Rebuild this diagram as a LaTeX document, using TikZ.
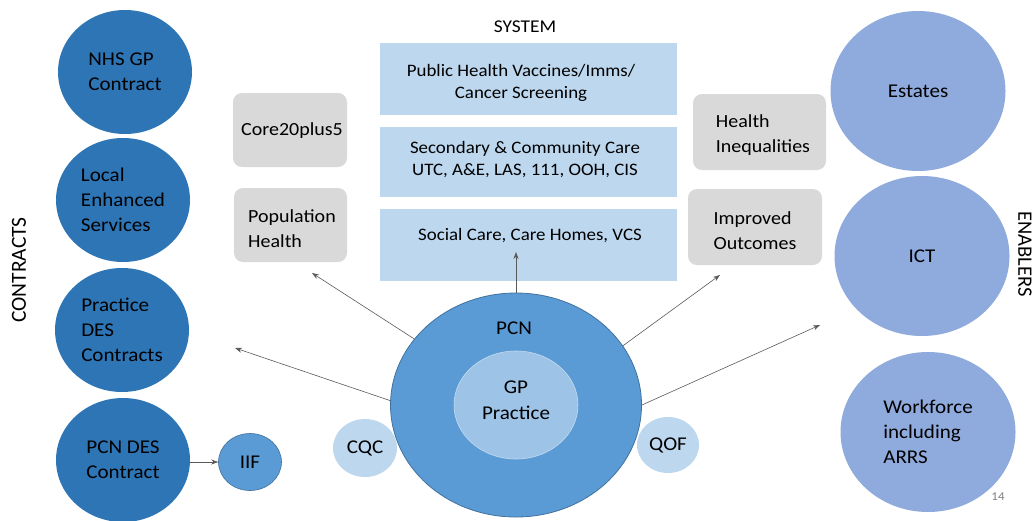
\documentclass[tikz,border=0pt]{standalone}
\usepackage{fontspec}
\setmainfont{Carlito}[FakeStretch=1.08]
\newfontfamily\rotfont{Carlito}
\usetikzlibrary{shapes.geometric,arrows.meta}
\definecolor{darkblue}{HTML}{2E75B6}
\definecolor{midblue}{HTML}{5B9BD5}
\definecolor{midborder}{HTML}{41719C}
\definecolor{paleblue}{HTML}{9DC3E6}
\definecolor{lightblue}{HTML}{BDD7EE}
\definecolor{enabler}{HTML}{8FAADC}
\definecolor{greybox}{HTML}{D9D9D9}
\definecolor{arrowgrey}{HTML}{595959}
\tikzset{
  contract/.style={ellipse, fill=darkblue, minimum width=134pt, minimum height=124pt, inner sep=0pt, align=left, font=\fontsize{19.5}{25}\selectfont},
  enab/.style={ellipse, fill=enabler, minimum width=175pt, minimum height=160pt, inner sep=0pt, align=left, font=\fontsize{19.5}{25}\selectfont},
  sysbox/.style={rectangle, fill=lightblue, minimum width=297pt, minimum height=72pt, inner sep=0pt},
  systext/.style={align=center, font=\fontsize{17.5}{22}\selectfont},
  greyb/.style={rectangle, rounded corners=9pt, fill=greybox, inner sep=0pt},
  greytext/.style={align=left, font=\fontsize{18.5}{25}\selectfont},
  small/.style={ellipse, fill=lightblue, minimum width=64pt, minimum height=58pt, inner sep=0pt, font=\fontsize{19.5}{24}\selectfont},
  conn/.style={draw=arrowgrey, line width=0.6pt, -{Stealth[length=7pt,width=5pt]}},
}
\begin{document}
\begin{tikzpicture}[x=1pt,y=-1pt]
\useasboundingbox (0,0) rectangle (1035,520);
% left contracts
\node[contract] (nhs) at (125,72) {NHS GP\\Contract};
\node[contract] (les) at (123,200) {Local\\Enhanced\\Services};
\node[contract] (pdes) at (122,330) {Practice\\DES\\Contracts};
\node[contract, align=center] (pcndes) at (123,460) {PCN DES\\Contract};
\node[ellipse, fill=midblue, draw=midborder, line width=0.6pt, minimum width=63pt, minimum height=57pt, inner sep=0pt, font=\fontsize{19.5}{24}\selectfont] (iif) at (250,462) {IIF};
\node[rotate=90, font=\rotfont\fontsize{21.5}{24}\selectfont] (contracts) at (19,270) {CONTRACTS};
% grey boxes
\node[greyb, minimum width=114pt, minimum height=74pt] (core) at (290,130) {};
\node[greytext] (coretext) at (292,131) {Core20plus5};
\node[greyb, minimum width=113pt, minimum height=74pt] (pop) at (290.5,225) {};
\node[greytext] (poptext) at (292,229) {Population\\Health};
\node[greyb, minimum width=133pt, minimum height=76pt] (hi) at (759.5,132) {};
\node[greytext] (hitext) at (763,135) {Health\\Inequalities};
\node[greyb, minimum width=134pt, minimum height=76pt] (io) at (755,227) {};
\node[greytext] (iotext) at (755,231) {Improved\\Outcomes};
% system
\node[font=\fontsize{18}{22}\selectfont] (system) at (525,27) {SYSTEM};
\node[sysbox] (ph) at (528.5,79) {};
\node[systext] (phtext) at (521,83) {Public Health Vaccines/Imms/\\Cancer Screening};
\node[sysbox, minimum height=70pt] (sec) at (528.5,162) {};
\node[systext] (sectext) at (525,160) {Secondary \& Community Care\\UTC, A\&E, LAS, 111, OOH, CIS};
\node[sysbox] (soc) at (528.5,245) {};
\node[systext] (soctext) at (530,236) {Social Care, Care Homes, VCS};
% PCN
\node[ellipse, fill=midblue, draw=midborder, line width=0.8pt, minimum width=251pt, minimum height=224pt, inner sep=0pt] (pcn) at (516,405) {};
\node[font=\fontsize{19.5}{24}\selectfont] (pcnlabel) at (514,328) {PCN};
\node[ellipse, fill=paleblue, draw=paleblue!60!white, line width=0.6pt, minimum width=124pt, minimum height=108pt, inner sep=0pt] (gp) at (516,405) {};
\node[align=center, font=\fontsize{19.5}{26}\selectfont] (gptext) at (516,400) {GP\\Practice};
\node[small] (cqc) at (365,448) {CQC};
\node[small, minimum width=62pt, minimum height=56pt] (qof) at (668,445) {QOF};
% enablers
\node[enab] (est) at (918,91) {Estates};
\node[enab] (ict) at (922,256) {ICT};
\node[enab] (wf) at (928,432) {Workforce\\including\\ARRS};
\node[rotate=-90, font=\rotfont\fontsize{20.5}{24}\selectfont] (enablers) at (1025,254) {ENABLERS};
\node[text=gray, font=\fontsize{12}{14}\selectfont] (pagenum) at (998,497) {14};
% arrow targets
\coordinate (tsoc) at (516,252);
\coordinate (tpop) at (312,273);
\coordinate (tpdes) at (235,348);
\coordinate (tio) at (720,275);
\coordinate (tict) at (820,325);
% arrows
\draw[conn] (pcn.north) -- (tsoc);
\draw[conn] (pcn.147.7) -- (tpop);
\draw[conn] (pcn.178.6) -- (tpdes);
\draw[conn] (pcn.29.3) -- (tio);
\draw[conn] (pcn.east) -- (tict);
\draw[conn] (pcndes.east |- iif.west) -- (iif.west);
\end{tikzpicture}
\end{document}
